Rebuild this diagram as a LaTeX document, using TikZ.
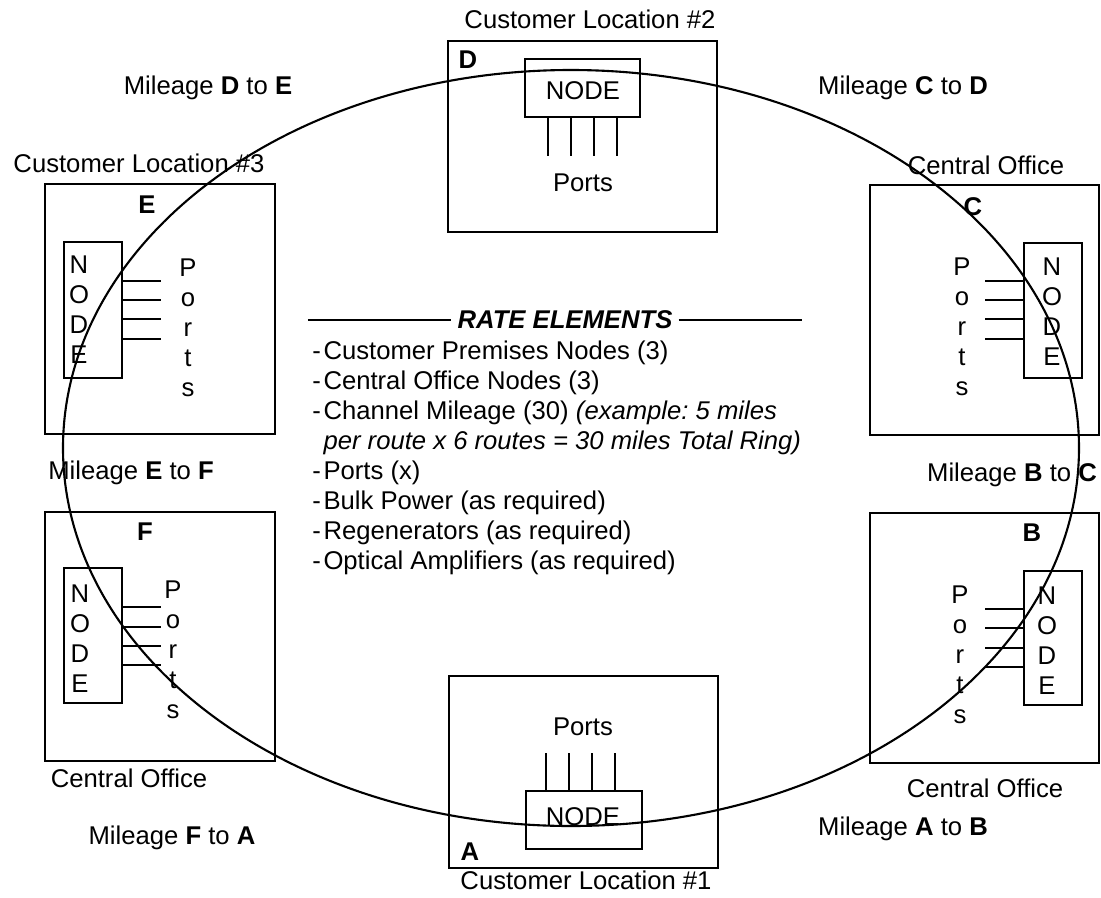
\documentclass[tikz,border=0pt]{standalone}
\usepackage{fontspec}
\setmainfont{Liberation Sans}
\usepackage{tikz}
\frenchspacing

\begin{document}
\begin{tikzpicture}[every node/.style={font=\fontsize{14.6}{17.1}\selectfont}]
          \useasboundingbox (-11.42, -8.98) rectangle (10.60, 8.96);
          % site boxes
          \draw[thick] (-2.46, 8.14) rectangle (2.92, 4.32);
          \draw[thick] (-2.44, -4.56) rectangle (2.94, -8.40);
          \draw[thick] (-10.52, 5.28) rectangle (-5.92, 0.28);
          \draw[thick] (-10.52, -1.28) rectangle (-5.92, -6.26);
          \draw[thick] (5.98, 5.26) rectangle (10.56, 0.26);
          \draw[thick] (5.98, -1.30) rectangle (10.56, -6.30);
          % node boxes inside the sites
          \draw[thick] (-0.92, 7.78) rectangle (1.38, 6.62);
          \draw[thick] (-0.90, -6.86) rectangle (1.42, -8.02);
          \draw[thick] (-10.14, 4.12) rectangle (-8.98, 1.40);
          \draw[thick] (-10.14, -2.40) rectangle (-8.98, -5.10);
          \draw[thick] (9.06, 4.10) rectangle (10.22, 1.40);
          \draw[thick] (9.06, -2.46) rectangle (10.22, -5.14);
          % port stubs
          \draw[thick] (-0.46, 6.62) -- (-0.46, 5.84) (0, 6.62) -- (0, 5.84) (0.46, 6.62) -- (0.46, 5.84) (0.92, 6.62) -- (0.92, 5.84);
          \draw[thick] (-0.50, -6.86) -- (-0.50, -6.10) (-0.04, -6.86) -- (-0.04, -6.10) (0.42, -6.86) -- (0.42, -6.10) (0.88, -6.86) -- (0.88, -6.10);
          \draw[thick] (-8.98, 3.34) -- (-8.20, 3.34) (-8.98, 2.96) -- (-8.20, 2.96) (-8.98, 2.58) -- (-8.20, 2.58) (-8.98, 2.18) -- (-8.20, 2.18);
          \draw[thick] (-8.98, -3.18) -- (-8.20, -3.18) (-8.98, -3.58) -- (-8.20, -3.58) (-8.98, -3.96) -- (-8.20, -3.96) (-8.98, -4.34) -- (-8.20, -4.34);
          \draw[thick] (8.28, 3.34) -- (9.06, 3.34) (8.28, 2.96) -- (9.06, 2.96) (8.28, 2.58) -- (9.06, 2.58) (8.28, 2.18) -- (9.06, 2.18);
          \draw[thick] (8.28, -3.22) -- (9.06, -3.22) (8.28, -3.60) -- (9.06, -3.60) (8.28, -4.00) -- (9.06, -4.00) (8.28, -4.38) -- (9.06, -4.38);
          %
          \node (locD) at (0.38, 8.58) {Customer Location \#2};
          \node (locA) at (0.30, -8.64) {Customer Location \#1};
          \node (locE) at (-8.64, 5.70) {Customer Location \#3};
          \node (coC) at (8.30, 5.66) {Central Office};
          \node (coF) at (-8.84, -6.60) {Central Office};
          \node (coB) at (8.28, -6.80) {Central Office};
          %
          \node (milDE) at (-7.26, 7.20) {Mileage \textbf{D} to \textbf{E}};
          \node (milCD) at (6.64, 7.20) {Mileage \textbf{C} to \textbf{D}};
          \node (milEF) at (-8.80, -0.50) {Mileage \textbf{E} to \textbf{F}};
          \node (milBC) at (8.82, -0.54) {Mileage \textbf{B} to \textbf{C}};
          \node (milFA) at (-7.98, -7.80) {Mileage \textbf{F} to \textbf{A}};
          \node (milAB) at (6.64, -7.62) {Mileage \textbf{A} to \textbf{B}};
          %
          \node (siteD) at (-2.06, 7.76) {\textbf{D}};
          \node (siteA) at (-2.02, -8.08) {\textbf{A}};
          \node (siteE) at (-8.48, 4.86) {\textbf{E}};
          \node (siteF) at (-8.52, -1.68) {\textbf{F}};
          \node (siteC) at (8.04, 4.82) {\textbf{C}};
          \node (siteB) at (9.22, -1.70) {\textbf{B}};
          %
          \node (nodeD) at (0.24, 7.14) {NODE};
          \node (nodeA) at (0.24, -7.38) {NODE};
          \node[align=center] (nodeE) at (-9.84, 2.77) {N\\O\\D\\E};
          \node[align=center] (nodeF) at (-9.82, -3.81) {N\\O\\D\\E};
          \node[align=center] (nodeC) at (9.62, 2.72) {N\\O\\D\\E};
          \node[align=center] (nodeB) at (9.52, -3.86) {N\\O\\D\\E};
          %
          \node (portsD) at (0.24, 5.30) {Ports};
          \node (portsA) at (0.24, -5.58) {Ports};
          \node[align=center] (portsE) at (-7.66, 2.41) {P\\o\\r\\t\\s};
          \node[align=center] (portsF) at (-7.96, -4.04) {P\\o\\r\\t\\s};
          \node[align=center] (portsC) at (7.82, 2.42) {P\\o\\r\\t\\s};
          \node[align=center] (portsB) at (7.78, -4.14) {P\\o\\r\\t\\s};
          %
          \node (rate) at (-0.12, 2.56) {\textbf{\textit{RATE ELEMENTS}}};
          \draw[thick] (-5.26, 2.56) -- (rate.west);
          \draw[thick] (rate.east) -- (4.62, 2.56);
          \node[anchor=north west, inner sep=0pt] (elements) at (-5.18, 2.20) {%
            \begin{tabular}{@{}l@{\hspace{1.5pt}}l@{}}
              - & Customer Premises Nodes (3) \\
              - & Central Office Nodes (3) \\
              - & Channel Mileage (30) \textit{(example: 5 miles} \\
                & \textit{per route x 6 routes = 30 miles Total Ring)} \\
              - & Ports (x) \\
              - & Bulk Power (as required) \\
              - & Regenerators (as required) \\
              - & Optical Amplifiers (as required)
            \end{tabular}};
          % the ring
          \draw[line width=1.2pt] (0, 0) ellipse (10.16 and 7.56);
        \end{tikzpicture}
\end{document}
